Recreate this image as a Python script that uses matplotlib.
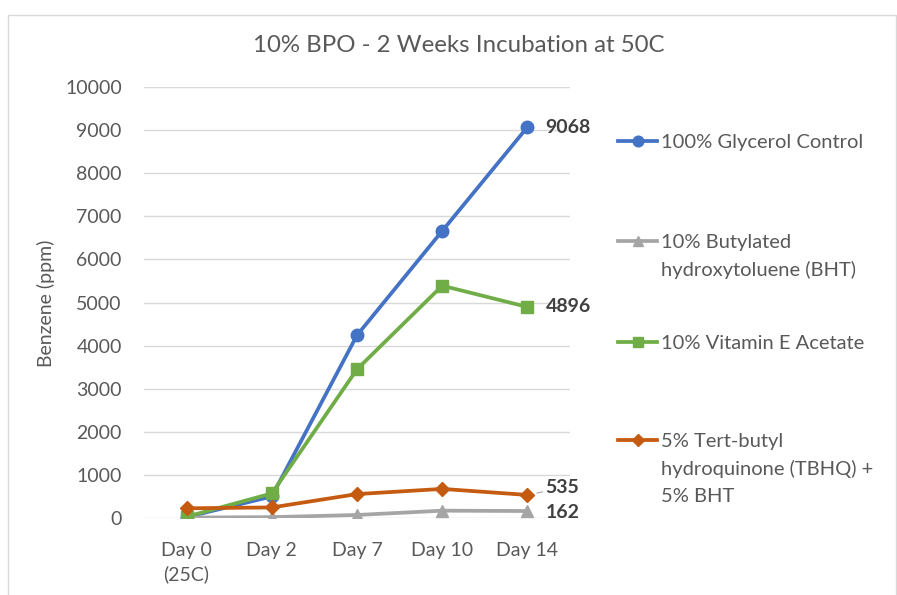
import matplotlib
matplotlib.use("Agg")
import matplotlib.pyplot as plt
from matplotlib.lines import Line2D
from matplotlib.patches import Rectangle

# values (ppm benzene)
days = ["Day 0\n(25C)", "Day 2", "Day 7", "Day 10", "Day 14"]
glycerol = [20, 500, 4240, 6660, 9068]
bht = [10, 20, 70, 170, 162]
vit_e = [30, 570, 3450, 5390, 4896]
tbhq_bht = [225, 245, 555, 675, 535]

series = [glycerol, bht, vit_e, tbhq_bht]
names = ["100% Glycerol Control",
         "10% Butylated\nhydroxytoluene (BHT)",
         "10% Vitamin E Acetate",
         "5% Tert-butyl\nhydroquinone (TBHQ) +\n5% BHT"]
colors = ["#4472C4", "#A5A5A5", "#70AD47", "#C55A11"]
markers = ["o", "^", "s", "D"]
msizes = [9, 9, 9, 7.5]

plt.rcParams["font.family"] = ["Lato", "DejaVu Sans"]
TXT = "#595959"
W, H = 897, 595

fig = plt.figure(figsize=(W / 100, H / 100), dpi=100)
fig.patches.append(Rectangle((8 / W, -0.1), 888 / W, (H - 15) / H + 0.1,
                             transform=fig.transFigure, fill=False,
                             ec="#D9D9D9", lw=1))

ax = fig.add_axes([144 / W, 77 / H, 426 / W, 431 / H])
x = range(len(days))
for vals, name, c, m, ms in zip(series, names, colors, markers, msizes):
    ax.plot(x, vals, color=c, marker=m, markersize=ms, linewidth=2.7,
            solid_capstyle="round", label=name, zorder=3)

ax.set_xlim(-0.5, 4.5)
ax.set_ylim(0, 10000)
ax.set_yticks(range(0, 10001, 1000))
ax.set_xticks(list(x))
ax.set_xticklabels(days, linespacing=1.45)
ax.tick_params(length=0, labelsize=14, labelcolor=TXT)
ax.tick_params(axis="y", pad=16)
ax.tick_params(axis="x", pad=17)
ax.grid(axis="y", color="#D9D9D9", linewidth=1)
ax.set_axisbelow(True)
for s in ax.spines.values():
    s.set_visible(False)

# end-of-line value labels
offsets = [0, -1, 0, 7]
for vals, dy in zip(series, offsets):
    v = vals[-1]
    kw = {}
    if dy > 3:
        kw["arrowprops"] = dict(arrowstyle="-", color="#A6A6A6", lw=0.8,
                                shrinkA=0, shrinkB=7)
    ax.annotate(f"{v}", xy=(4, v), xytext=(18, dy), textcoords="offset pixels",
                fontsize=14, fontweight="bold", color="#404040",
                va="center", ha="left", **kw)

fig.text(459 / W, 1 - 46 / H, "10% BPO - 2 Weeks Incubation at 50C",
         ha="center", va="center", fontsize=17.3, color=TXT)
fig.text(46 / W, 1 - 303 / H, "Benzene (ppm)", rotation=90,
         ha="center", va="center", fontsize=14, color=TXT)

# legend, laid out like the Excel one (key aligned with first text line)
key_y = [141, 241, 342, 440]
for name, c, m, ms, ky in zip(names, colors, markers, msizes, key_y):
    yf = 1 - ky / H
    fig.add_artist(Line2D([618 / W, 657 / W], [yf, yf], color=c, lw=2.7,
                          transform=fig.transFigure))
    fig.add_artist(Line2D([637.5 / W], [yf], color=c, marker=m, markersize=ms * 0.85,
                          transform=fig.transFigure))
    for i, line in enumerate(name.split("\n")):
        fig.text(661 / W, 1 - (ky + 27.7 * i) / H, line, ha="left",
                 va="center_baseline", fontsize=14.5, color=TXT)

fig.savefig("out.png", dpi=100)
